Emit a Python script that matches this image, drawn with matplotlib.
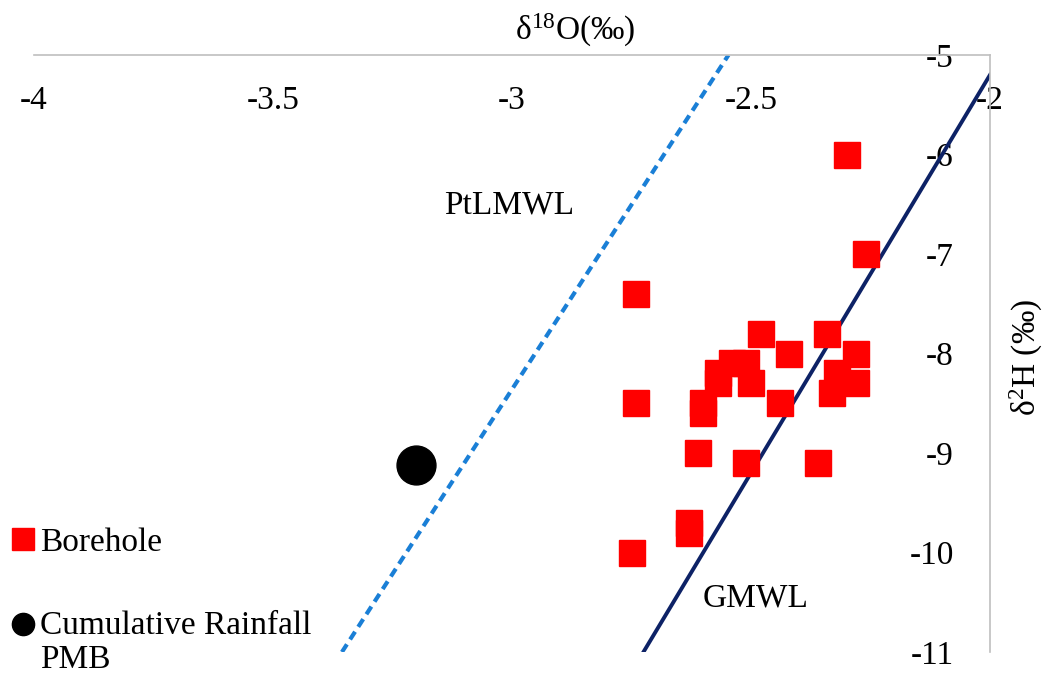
import numpy as np
import matplotlib
matplotlib.use("Agg")
import matplotlib.pyplot as plt
from matplotlib.lines import Line2D
from matplotlib.legend_handler import HandlerLine2D

plt.rcParams['font.family'] = ['Liberation Serif', 'DejaVu Serif']
plt.rcParams['mathtext.fontset'] = 'custom'
plt.rcParams['mathtext.rm'] = 'Liberation Serif'
plt.rcParams['mathtext.default'] = 'regular'

# borehole samples (d18O, d2H)
bore_o18 = [-2.30, -2.26, -2.74, -2.48, -2.34, -2.42, -2.28, -2.54, -2.51,
            -2.57, -2.57, -2.50, -2.60, -2.60, -2.44, -2.28, -2.32, -2.33,
            -2.74, -2.61, -2.51, -2.36, -2.75, -2.63, -2.63]
bore_h2 = [-6.0, -7.0, -7.4, -7.8, -7.8, -8.0, -8.0, -8.1, -8.1,
           -8.2, -8.3, -8.3, -8.5, -8.6, -8.5, -8.3, -8.2, -8.4,
           -8.5, -9.0, -9.1, -9.1, -10.0, -9.7, -9.8]

# cumulative rainfall PMB
rain_o18 = [-3.20]
rain_h2 = [-9.12]

# meteoric water lines: slope, intercept
gmwl = (8.0, 10.8)
ptlmwl = (7.42, 13.9)

xticks = [-4, -3.5, -3, -2.5, -2]
yticks = [-5, -6, -7, -8, -9, -10, -11]

FS = 24


class FirstLineHandler(HandlerLine2D):
    # put the marker next to the first line of a two-line label
    def __init__(self, shift, **kw):
        super().__init__(**kw)
        self.shift = shift

    def create_artists(self, legend, orig_handle, xdescent, ydescent,
                       width, height, fontsize, trans):
        arts = super().create_artists(legend, orig_handle, xdescent, ydescent,
                                      width, height, fontsize, trans)
        for a in arts:
            a.set_ydata(np.asarray(a.get_ydata()) + self.shift)
        return arts


fig = plt.figure(figsize=(10.56, 6.74), dpi=100)
ax = fig.add_axes([0.0322, 0.0326, 0.9053, 0.8858])
ax.set_xlim(-4, -2)
ax.set_ylim(-11, -5)

# lines clipped to the plotting box
x_g = np.array([(-11 - gmwl[1]) / gmwl[0], -2])
ax.plot(x_g, gmwl[0] * x_g + gmwl[1], color='#0d2266', lw=2.8, zorder=2)
x_p = np.array([(-11 - ptlmwl[1]) / ptlmwl[0], (-5 - ptlmwl[1]) / ptlmwl[0]])
ax.plot(x_p, ptlmwl[0] * x_p + ptlmwl[1], color='#1a7fd6', lw=3, ls=(0, (2.2, 1.4)), zorder=2)

ax.plot(bore_o18, bore_h2, ls='none', marker='s', ms=19, color='#ff0000', zorder=3)
ax.plot(rain_o18, rain_h2, ls='none', marker='o', ms=28, color='black', zorder=3)

ax.text(-3.006, -6.51, 'PtLMWL', fontsize=FS, ha='center', va='center')
ax.text(-2.49, -10.46, 'GMWL', fontsize=FS, ha='center', va='center')

# axes drawn at top and right, labels inside
for s in ['top', 'right']:
    ax.spines[s].set_visible(False)
ax.spines['bottom'].set_position(('axes', 1))
ax.spines['left'].set_position(('axes', 1))
for s in ['bottom', 'left']:
    ax.spines[s].set_color('#bfbfbf')
    ax.spines[s].set_linewidth(1.2)
ax.set_xticks(xticks)
ax.set_xticklabels([f'{t:g}' for t in xticks])
ax.set_yticks(yticks)
ax.set_yticklabels([f'{t:g}' for t in yticks])
ax.tick_params(axis='both', length=0, labelsize=FS)
ax.tick_params(axis='x', pad=22)
ax.tick_params(axis='y', pad=26)

fig.text(0.545, 0.955, r'δ$^{18}$O(‰)', fontsize=FS, ha='center', va='center')
fig.text(0.972, 0.47, r'δ$^{2}$H (‰)', fontsize=FS, ha='center', va='center', rotation=90)

h_bore = Line2D([], [], ls='none', marker='s', ms=16, color='#ff0000')
h_rain = Line2D([], [], ls='none', marker='o', ms=16, color='black')
leg = fig.legend([h_bore, h_rain], ['Borehole', 'Cumulative Rainfall\nPMB'],
                 loc='upper left', bbox_to_anchor=(0.0095, 0.218), frameon=False,
                 fontsize=FS, handlelength=0.8, handletextpad=0.1, borderpad=0,
                 borderaxespad=0, labelspacing=1.6,
                 handler_map={h_rain: FirstLineHandler(shift=13.5)})
for t in leg.get_texts():
    t.set_linespacing(1.15)

fig.savefig('out.png', dpi=100)
